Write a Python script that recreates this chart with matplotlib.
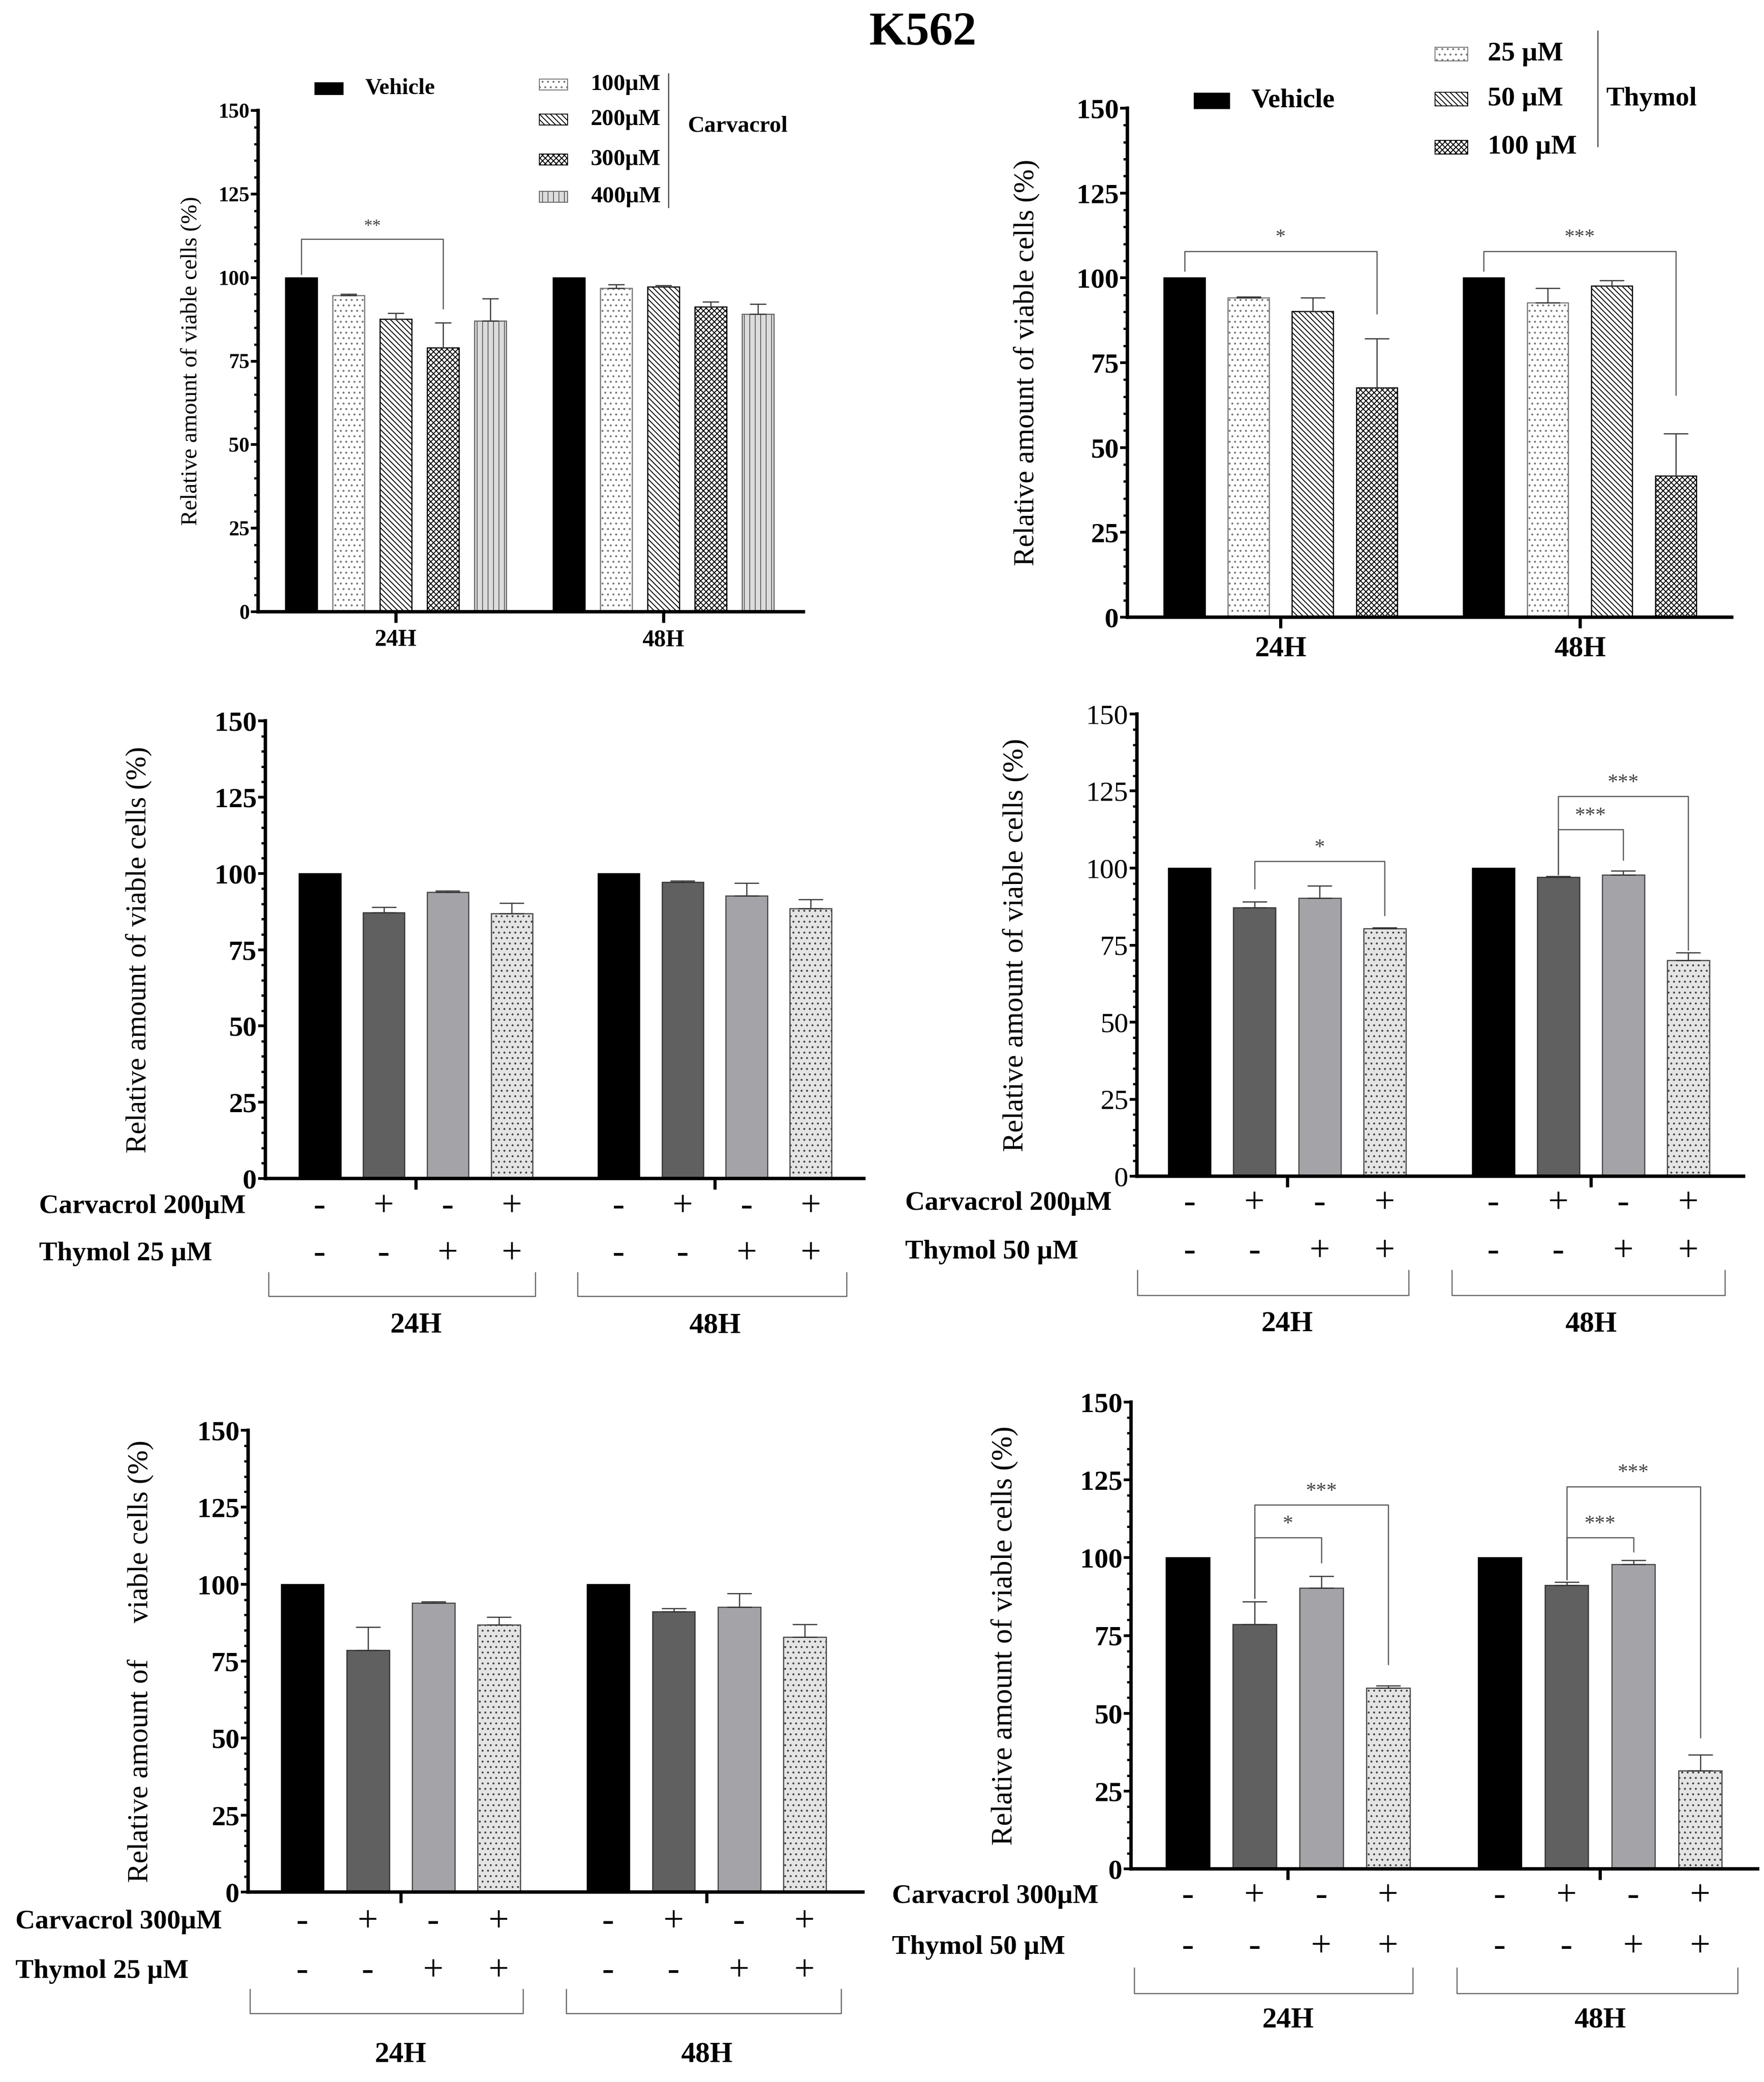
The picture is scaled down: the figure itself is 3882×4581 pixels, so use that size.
import matplotlib
matplotlib.use('Agg')
import matplotlib.pyplot as plt
from matplotlib.patches import Rectangle
from matplotlib.ticker import MultipleLocator
import numpy as np

# ---------------- data ----------------
groups = ['24H', '48H']

# panel A: carvacrol alone (vehicle, 100, 200, 300, 400 uM)
carv_doses = ['100µM', '200µM', '300µM', '400µM']
carv_mean_24 = [100, 94.7, 87.6, 79.0, 87.1]
carv_err_24 = [0, 0.3, 1.7, 7.5, 6.6]
carv_mean_48 = [100, 96.8, 97.3, 91.3, 89.1]
carv_err_48 = [0, 1.1, 0.4, 1.4, 3.0]

# panel B: thymol alone (vehicle, 25, 50, 100 uM)
thy_doses = ['25 µM', '50 µM', '100 µM']
thy_mean_24 = [100, 94.1, 90.2, 67.6]
thy_err_24 = [0, 0.3, 3.9, 14.5]
thy_mean_48 = [100, 92.7, 97.7, 41.7]
thy_err_48 = [0, 4.2, 1.6, 12.4]

# combination panels: vehicle, carvacrol, thymol, carvacrol + thymol
carv_signs = ['-', '+', '-', '+']
thy_signs = ['-', '-', '+', '+']

c200t25_mean_24 = [100, 87.2, 93.9, 86.9]
c200t25_err_24 = [0, 1.8, 0.4, 3.3]
c200t25_mean_48 = [100, 97.1, 92.7, 88.5]
c200t25_err_48 = [0, 0.4, 4.1, 3.0]

c200t50_mean_24 = [100, 87.2, 90.3, 80.4]
c200t50_err_24 = [0, 1.9, 3.9, 0.3]
c200t50_mean_48 = [100, 97.0, 97.8, 70.0]
c200t50_err_48 = [0, 0.3, 1.3, 2.5]

c300t25_mean_24 = [100, 78.5, 93.9, 86.8]
c300t25_err_24 = [0, 7.6, 0.4, 2.5]
c300t25_mean_48 = [100, 91.1, 92.6, 82.8]
c300t25_err_48 = [0, 1.0, 4.4, 4.2]

c300t50_mean_24 = [100, 78.6, 90.2, 58.1]
c300t50_err_24 = [0, 7.3, 3.9, 0.8]
c300t50_mean_48 = [100, 91.1, 97.9, 31.5]
c300t50_err_48 = [0, 1.1, 1.2, 5.2]

# significance: (group, left bar, right bar, left start, top, right end, label)
sig_a = [(0, 0, 3, 101, 111.5, 90.7, '**')]
sig_b = [(0, 0, 3, 102, 107.8, 89.4, '*'), (1, 0, 3, 102, 107.8, 65.5, '***')]
sig_d = [(0, 1, 3, 93.3, 102.2, 84.6, '*'), (1, 1, 3, 98, 123.3, 73.5, '***'),
         (1, 1, 2, 98, 112.5, 102.6, '***')]
sig_f = [(0, 1, 3, 87, 117.0, 65.7, '***'), (0, 1, 2, 87, 106.5, 98.4, '*'),
         (1, 1, 3, 93, 122.9, 42.2, '***'), (1, 1, 2, 93, 106.5, 102.0, '***')]

# ---------------- style ----------------
W, H = 3882, 4581
plt.rcParams['font.family'] = ['Liberation Serif', 'DejaVu Serif']
plt.rcParams['hatch.linewidth'] = 2.0
plt.rcParams['axes.linewidth'] = 7.5

fig = plt.figure(figsize=(W / 72, H / 72), dpi=72)

A_STYLES = [dict(color='black', edgecolor='black', hatch=None),
            dict(color='white', edgecolor='#777777', hatch='.'),
            dict(color='white', edgecolor='black', hatch='\\\\'),
            dict(color='white', edgecolor='black', hatch='xx'),
            dict(color='#dcdcdc', edgecolor='#666666', hatch='|')]
B_STYLES = [A_STYLES[0], A_STYLES[1], A_STYLES[2], A_STYLES[3]]
COMBO_STYLES = [dict(color='black', edgecolor='black', hatch=None),
                dict(color='#606060', edgecolor='#333333', hatch=None),
                dict(color='#a4a4a8', edgecolor='#444444', hatch=None),
                dict(color='#e4e4e4', edgecolor='#444444', hatch='.')]


def px_axes(left, right, top, bottom):
    return fig.add_axes([left / W, 1 - bottom / H, (right - left) / W, (bottom - top) / H])


def style_axes(ax, xlim, tick_size, tick_bold):
    ax.set_xlim(*xlim)
    ax.set_ylim(0, 150)
    ax.spines['top'].set_visible(False)
    ax.spines['right'].set_visible(False)
    ax.yaxis.set_major_locator(MultipleLocator(25))
    ax.yaxis.set_minor_locator(MultipleLocator(5))
    ax.tick_params(axis='y', which='major', length=16, width=6, labelsize=tick_size, pad=3)
    ax.tick_params(axis='y', which='minor', length=9, width=5)
    ax.tick_params(axis='x', which='major', length=24, width=7)
    for lab in ax.get_yticklabels():
        lab.set_fontweight('bold' if tick_bold else 'normal')


def draw_bars(ax, centers, offsets, means, errs, styles, width, capsize):
    for g, c in enumerate(centers):
        xs = c + np.array(offsets)
        for i, x in enumerate(xs):
            st = styles[i]
            ax.bar(x, means[g][i], width, color=st['color'], edgecolor=st['edgecolor'],
                   hatch=st['hatch'], linewidth=2.5, zorder=2)
            if errs[g][i] > 0:
                ax.errorbar(x, means[g][i], yerr=[[0], [errs[g][i]]], fmt='none',
                            ecolor='#333333', elinewidth=2.5, capsize=capsize,
                            capthick=2.5, zorder=3)


def draw_sig(ax, centers, offsets, sigs, star_size):
    for g, i1, i2, y1, yt, y2, lab in sigs:
        x1 = centers[g] + offsets[i1]
        x2 = centers[g] + offsets[i2]
        ax.plot([x1, x1, x2, x2], [y1, yt, yt, y2], color='#555555', lw=2.5,
                zorder=4, clip_on=False)
        ax.text((x1 + x2) / 2, yt + 2.5, lab, ha='center', va='baseline',
                fontsize=star_size, color='#444444')


def ylabel(ax, xfrac, text, size):
    ax.text(xfrac, 0.5, text, transform=ax.transAxes, rotation=90,
            ha='center', va='center', fontsize=size)


def fig_text(x, y, s, **kw):
    fig.text(x / W, 1 - y / H, s, **kw)


def fig_patch(x0, x1, yc, h, st):
    fig.add_artist(Rectangle((x0 / W, 1 - (yc + h / 2) / H), (x1 - x0) / W, h / H,
                             transform=fig.transFigure, facecolor=st['color'],
                             edgecolor=st['edgecolor'] if st['hatch'] else 'black',
                             hatch=st['hatch'], linewidth=2))


def row_px(ax, frac):
    pos = ax.get_position()
    y = pos.y0 + frac * pos.height
    return (1 - y) * H


def combo_panel(box, xlim, means, errs, sigs, carv_label, thy_label, rows,
                row_x, ylab_x, tick_bold, ylab_text, ylab_size):
    ax = px_axes(*box)
    centers = [0, 4.67]
    offsets = [-1.5, -0.5, 0.5, 1.5]
    draw_bars(ax, centers, offsets, means, errs, COMBO_STYLES, 0.65, 27)
    if sigs:
        draw_sig(ax, centers, offsets, sigs, 46)
    ax.set_xticks(centers)
    ax.set_xticklabels(['', ''])
    style_axes(ax, xlim, 62, tick_bold)
    ylabel(ax, ylab_x, ylab_text, ylab_size)
    tr = ax.get_xaxis_transform()
    y_carv, y_thy, y_br1, y_br2, y_grp = rows
    for g, c in enumerate(centers):
        for i, off in enumerate(offsets):
            ax.text(c + off, y_carv, carv_signs[i], transform=tr, ha='center',
                    va='center', fontsize=80)
            ax.text(c + off, y_thy, thy_signs[i], transform=tr, ha='center',
                    va='center', fontsize=80)
        ax.text(c, y_grp, groups[g], transform=tr, ha='center', va='center',
                fontsize=64, fontweight='bold')
    for c, (b1, b2) in zip(centers, [(-2.3, 1.87), (-2.14, 2.06)]):
        ax.plot([c + b1, c + b1, c + b2, c + b2], [y_br1, y_br2, y_br2, y_br1],
                transform=tr, color='#666666', lw=2.5, clip_on=False)
    # row labels (left of axes)
    fig_text(row_x, row_px(ax, y_carv), carv_label, ha='left', va='center',
             fontsize=60, fontweight='bold')
    fig_text(row_x, row_px(ax, y_thy), thy_label, ha='left', va='center',
             fontsize=60, fontweight='bold')
    return ax


# ---------------- title ----------------
fig_text(2031, 73, 'K562', ha='center', va='center', fontsize=104, fontweight='bold')

# ---------------- panel A ----------------
axA = px_axes(568, 1768, 243, 1346)
cA = [0, 5.66]
oA = [-2, -1, 0, 1, 2]
draw_bars(axA, cA, oA, [carv_mean_24, carv_mean_48], [carv_err_24, carv_err_48],
          A_STYLES, 0.67, 18)
draw_sig(axA, cA, oA, sig_a, 38)
axA.set_xticks(cA)
axA.set_xticklabels(groups, fontsize=52, fontweight='bold')
style_axes(axA, (-2.91, 8.62), 46, True)
axA.tick_params(axis='x', pad=14)
ylabel(axA, -0.123, 'Relative amount of viable cells (%)', 51)

fig_patch(693, 755, 195, 26, A_STYLES[0])
fig_text(804, 195, 'Vehicle', ha='left', va='center', fontsize=50, fontweight='bold')
for k, yc in enumerate([186, 263, 351, 433]):
    fig_patch(1187, 1249, yc, 24, A_STYLES[k + 1])
    fig_text(1300, yc, carv_doses[k], ha='left', va='center', fontsize=51, fontweight='bold')
fig.add_artist(plt.Line2D([1471 / W, 1471 / W], [1 - 162 / H, 1 - 456 / H],
                          transform=fig.transFigure, color='#444444', lw=2.5))
fig_text(1513, 278, 'Carvacrol', ha='left', va='center', fontsize=51, fontweight='bold')

# ---------------- panel B ----------------
axB = px_axes(2481, 3811, 238, 1358)
cB = [0, 4.67]
oB = [-1.5, -0.5, 0.5, 1.5]
draw_bars(axB, cB, oB, [thy_mean_24, thy_mean_48], [thy_err_24, thy_err_48],
          B_STYLES, 0.64, 27)
draw_sig(axB, cB, oB, sig_b, 45)
axB.set_xticks(cB)
axB.set_xticklabels(groups, fontsize=64, fontweight='bold')
style_axes(axB, (-2.39, 7.04), 62, True)
axB.tick_params(axis='x', pad=18)
ylabel(axB, -0.167, 'Relative amount of viable cells (%)', 63)

fig_patch(2628, 2706, 222, 33, B_STYLES[0])
fig_text(2753, 222, 'Vehicle', ha='left', va='center', fontsize=60, fontweight='bold')
for k, yc in enumerate([119, 218, 324]):
    fig_patch(3158, 3230, yc, 30, B_STYLES[k + 1])
    fig_text(3274, yc, thy_doses[k], ha='left', va='center', fontsize=60, fontweight='bold')
fig.add_artist(plt.Line2D([3516 / W, 3516 / W], [1 - 68 / H, 1 - 322 / H],
                          transform=fig.transFigure, color='#444444', lw=2.5))
fig_text(3534, 218, 'Thymol', ha='left', va='center', fontsize=60, fontweight='bold')

# ---------------- combination panels ----------------
combo_panel((584, 1901, 1586, 2593), (-2.35, 7.0),
            [c200t25_mean_24, c200t25_mean_48], [c200t25_err_24, c200t25_err_48], None,
            'Carvacrol 200µM', 'Thymol 25 µM',
            (-0.062, -0.165, -0.206, -0.257, -0.322), 86, -0.212, True,
            'Relative amount of viable cells (%)', 63)

combo_panel((2502, 3837, 1571, 2588), (-2.31, 7.02),
            [c200t50_mean_24, c200t50_mean_48], [c200t50_err_24, c200t50_err_48], sig_d,
            'Carvacrol 200µM', 'Thymol 50 µM',
            (-0.059, -0.164, -0.204, -0.258, -0.321), 1992, -0.2, False,
            'Relative amount of viable cells (%)', 64)

combo_panel((546, 1899, 3147, 4163), (-2.33, 7.06),
            [c300t25_mean_24, c300t25_mean_48], [c300t25_err_24, c300t25_err_48], None,
            'Carvacrol 300µM', 'Thymol 25 µM',
            (-0.065, -0.172, -0.211, -0.263, -0.353), 34, -0.175, True,
            'Relative amount of     viable cells (%)', 64)

combo_panel((2489, 3868, 3085, 4112), (-2.35, 7.03),
            [c300t50_mean_24, c300t50_mean_48], [c300t50_err_24, c300t50_err_48], sig_f,
            'Carvacrol 300µM', 'Thymol 50 µM',
            (-0.059, -0.168, -0.212, -0.267, -0.325), 1963, -0.202, True,
            'Relative amount of viable cells (%)', 65)

fig.savefig('out.png', dpi=72, facecolor='white')
